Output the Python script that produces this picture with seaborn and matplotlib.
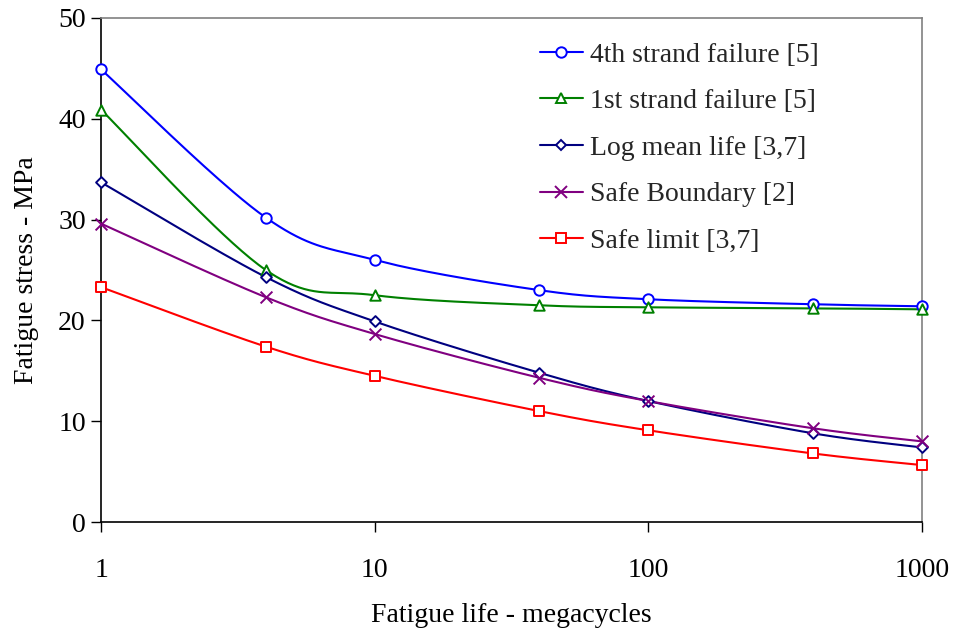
import numpy as np
import pandas as pd
import matplotlib
matplotlib.use("Agg")
import matplotlib.pyplot as plt
from matplotlib.lines import Line2D
import seaborn as sns

cycles = [1, 4, 10, 40, 100, 400, 1000]
series_names = ["4th strand failure [5]", "1st strand failure [5]", "Log mean life [3,7]",
                "Safe Boundary [2]", "Safe limit [3,7]"]
strand4 = [44.9, 30.2, 26.0, 23.0, 22.1, 21.6, 21.4]
strand1 = [40.9, 25.0, 22.5, 21.5, 21.3, 21.2, 21.1]
log_mean = [33.7, 24.3, 19.9, 14.8, 12.0, 8.8, 7.4]
safe_boundary = [29.6, 22.3, 18.65, 14.3, 12.0, 9.3, 8.0]
safe_limit = [23.3, 17.4, 14.5, 11.0, 9.1, 6.8, 5.65]
x_ticks = [1, 10, 100, 1000]
x_ticklabels = ["1", "10", "100", "1000"]
y_ticks = [0, 10, 20, 30, 40, 50]

colors = ["#0000FF", "#008000", "#000080", "#800080", "#FF0000"]
markers = ["o", "^", "D", "x", "s"]
msizes = [7.5, 7.5, 5.5, 8.5, 7.0]

sns.set_theme(style="white")
plt.rcParams["font.family"] = ["Liberation Serif", "DejaVu Serif"]

fig = plt.figure(figsize=(9.56, 6.31), dpi=100)
ax = fig.add_axes([0.1057, 0.1727, 0.8587, 0.7988])
ax.set_xscale("log")
ax.set_xlim(1, 1000)
ax.set_ylim(0, 50)

all_vals = [strand4, strand1, log_mean, safe_boundary, safe_limit]
df = pd.concat([pd.DataFrame({"cycles": cycles, "stress": v, "series": n})
                for n, v in zip(series_names, all_vals)], ignore_index=True)


def smooth_curve(xs, ys, n=40):
    # Excel-like smoothing (Catmull-Rom Bezier) computed in display space
    pts = ax.transData.transform(np.column_stack([xs, ys]))
    out = [pts[0]]
    m = len(pts)
    for i in range(m - 1):
        p0 = pts[i - 1] if i > 0 else pts[i]
        p1 = pts[i]
        p2 = pts[i + 1]
        p3 = pts[i + 2] if i + 2 < m else pts[i + 1]
        c1 = p1 + (p2 - p0) / 6.0
        c2 = p2 - (p3 - p1) / 6.0
        t = np.linspace(0, 1, n)[1:, None]
        seg = ((1 - t) ** 3) * p1 + 3 * ((1 - t) ** 2) * t * c1 + 3 * (1 - t) * t ** 2 * c2 + t ** 3 * p2
        out.extend(seg)
    out = np.array(out)
    return ax.transData.inverted().transform(out)


handles = []
for name, col, mk, ms in zip(series_names, colors, markers, msizes):
    sub = df[df["series"] == name]
    curve = smooth_curve(sub["cycles"].to_numpy(float), sub["stress"].to_numpy(float))
    ax.plot(curve[:, 0], curve[:, 1], color=col, lw=1.5, zorder=2, clip_on=False)
    sns.scatterplot(data=sub, x="cycles", y="stress", ax=ax, marker=mk, s=ms ** 2,
                    facecolor="white" if mk != "x" else col, edgecolor=col,
                    linewidth=1.4, color=col, zorder=3, legend=False, clip_on=False)
    handles.append(Line2D([0], [0], color=col, lw=1.5, marker=mk, markersize=ms,
                          markerfacecolor="white" if mk != "x" else col,
                          markeredgecolor=col, markeredgewidth=1.4))

ax.set_xticks(x_ticks)
ax.set_xticklabels(x_ticklabels)
ax.xaxis.set_minor_locator(matplotlib.ticker.NullLocator())
ax.set_yticks(y_ticks)
ax.tick_params(axis="x", direction="out", length=7, width=1, pad=19, labelsize=20, colors="black")
ax.tick_params(axis="y", direction="out", length=7, width=1, pad=4, labelsize=20, colors="black")
ax.xaxis.set_ticks_position("bottom")
ax.yaxis.set_ticks_position("left")
ax.set_xlabel("Fatigue life - megacycles", fontsize=20, labelpad=14, color="black")
ax.set_ylabel("Fatigue stress - MPa", fontsize=20, labelpad=14, color="black")

for side in ["left", "bottom"]:
    ax.spines[side].set_color("black")
    ax.spines[side].set_linewidth(1.2)
for side in ["top", "right"]:
    ax.spines[side].set_color("#808080")
    ax.spines[side].set_linewidth(1.2)

ax.legend(handles, series_names, loc="upper left", bbox_to_anchor=(0.521, 0.974),
          borderaxespad=0, frameon=False, fontsize=20, handlelength=1.55,
          handletextpad=0.25, labelspacing=0.76)

fig.savefig("out.png", dpi=100)
